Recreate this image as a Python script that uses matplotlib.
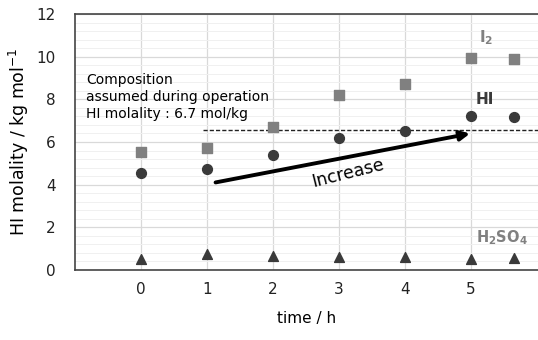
import numpy as np
import matplotlib.pyplot as plt
from matplotlib.ticker import MultipleLocator

# data
time_h = [0, 1, 2, 3, 4, 5, 5.65]
i2 = [5.53, 5.7, 6.7, 8.2, 8.7, 9.95, 9.88]
hi = [4.55, 4.75, 5.4, 6.2, 6.5, 7.2, 7.15]
h2so4 = [0.5, 0.75, 0.65, 0.6, 0.6, 0.5, 0.55]
x_ticks = [0, 1, 2, 3, 4, 5]
y_ticks = [0, 2, 4, 6, 8, 10, 12]
assumed_hi = 6.55

fig = plt.figure(figsize=(5.38, 3.4), dpi=100)
ax = fig.add_axes([75 / 538, 70 / 340, 463 / 538, 256 / 340])

ax.set_xlim(-1, 6.02)
ax.set_ylim(0, 12)
ax.set_xticks(x_ticks)
ax.set_yticks(y_ticks)
ax.yaxis.set_minor_locator(MultipleLocator(0.4))
ax.grid(True, which='major', color='#d9d9d9', lw=0.9)
ax.grid(True, which='minor', axis='y', color='#f0f0f0', lw=0.7)
ax.set_axisbelow(True)
ax.tick_params(which='both', length=0, labelsize=11, colors='#222222')
ax.tick_params(axis='x', pad=9)
ax.tick_params(axis='y', pad=14)
for side in ['top', 'left', 'bottom']:
    ax.spines[side].set_color('#444444')
    ax.spines[side].set_linewidth(1.2)
ax.spines['right'].set_visible(False)

ax.scatter(time_h, i2, marker='s', s=45, color='#808080', zorder=3)
ax.scatter(time_h, hi, marker='o', s=50, color='#3a3a3a', zorder=3)
ax.scatter(time_h, h2so4, marker='^', s=50, color='#3a3a3a', zorder=3)

ax.plot([0.94, 6.02], [assumed_hi, assumed_hi], ls=(0, (3, 1.5)), color='#222222', lw=1.0, zorder=2)
ax.annotate('', xy=(5.03, 6.42), xytext=(1.09, 4.08),
            arrowprops=dict(arrowstyle='-|>', color='black', lw=2.8, mutation_scale=14), zorder=4)
ax.text(3.14, 4.55, 'Increase', rotation=14, fontsize=12.5, ha='center', va='center')

ax.text(-0.83, 8.9, 'Composition', fontsize=10, va='center')
ax.text(-0.83, 8.1, 'assumed during operation', fontsize=10, va='center')
ax.text(-0.83, 7.3, 'HI molality : 6.7 mol/kg', fontsize=10, va='center')

ax.text(5.12, 10.9, r'$\mathbf{I_2}$', fontsize=11, color='#808080', va='center')
ax.text(5.08, 7.97, 'HI', fontsize=11, color='#3a3a3a', fontweight='bold', va='center')
ax.text(5.08, 1.5, r'$\mathbf{H_2SO_4}$', fontsize=10.5, color='#808080', va='center')

ax.set_ylabel('HI molality / kg mol$^{-1}$', fontsize=12.5, labelpad=4)
ax.set_xlabel('time / h', fontsize=11, labelpad=10)

fig.savefig('out.png', dpi=100)
